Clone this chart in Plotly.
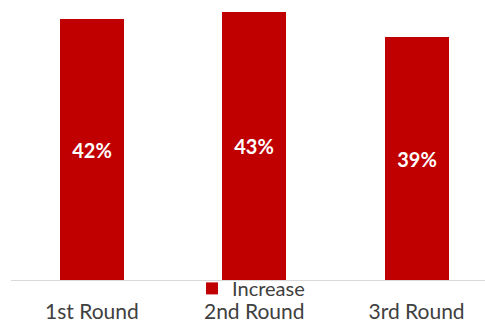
import plotly.graph_objects as go

# Chart data
rounds = ["1st Round", "2nd Round", "3rd Round"]
increase_pct = [42, 43, 39]
series_name = "Increase"

BAR_COLOR = "#C00000"
FONT = "Lato"

fig = go.Figure()
fig.add_trace(go.Bar(
    x=rounds,
    y=increase_pct,
    name=series_name,
    marker=dict(color=BAR_COLOR, line=dict(width=0)),
    width=0.394,
    texttemplate="<b>%{y}%</b>",
    textposition="inside",
    insidetextanchor="middle",
    textangle=0,
    textfont=dict(family=FONT, size=20, color="white"),
    showlegend=True,
))

fig.update_layout(
    width=485,
    height=322,
    margin=dict(l=11, r=0, t=0, b=42, pad=0, autoexpand=False),
    paper_bgcolor="white",
    plot_bgcolor="white",
    font=dict(family=FONT, size=21, color="#404040"),
    bargap=0,
    uniformtext=dict(minsize=20, mode="show"),
    xaxis=dict(
        type="category",
        range=[-0.4985, 2.4215],
        automargin=False,
        showline=True,
        linecolor="#D9D9D9",
        linewidth=1,
        showgrid=False,
        ticks="",
        ticklabelstandoff=13,
        tickfont=dict(family=FONT, size=21, color="#404040"),
        fixedrange=True,
    ),
    yaxis=dict(
        range=[0, 45.0],
        visible=False,
        automargin=False,
        showgrid=False,
        zeroline=False,
        fixedrange=True,
    ),
    legend=dict(
        orientation="h",
        x=0.3819,
        xanchor="left",
        y=-0.03,
        yanchor="middle",
        bgcolor="rgba(0,0,0,0)",
        font=dict(family=FONT, size=20, color="#404040"),
        itemwidth=30,
    ),
)

fig.write_html("out.html")
